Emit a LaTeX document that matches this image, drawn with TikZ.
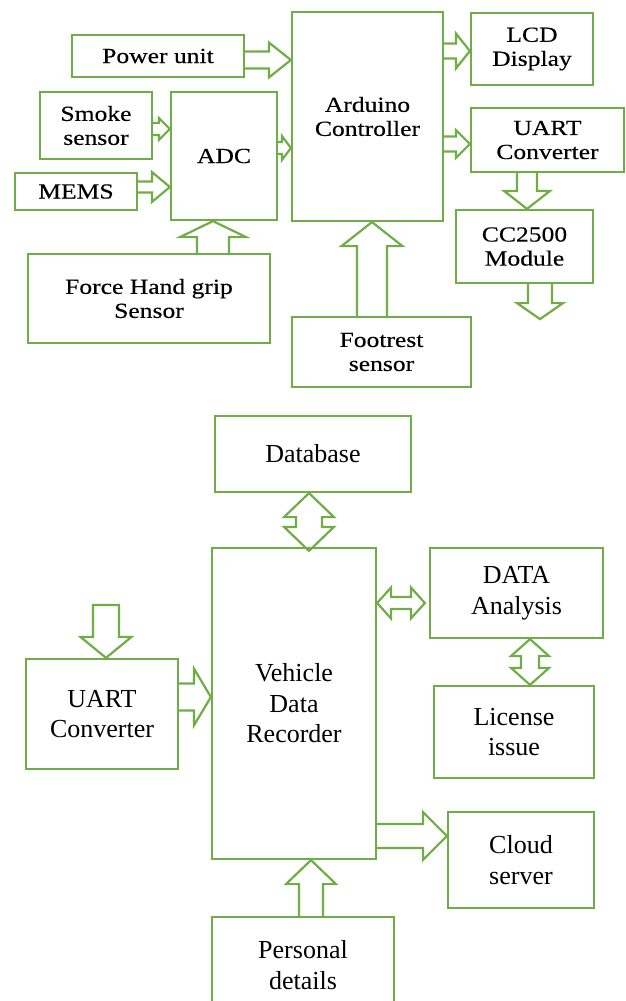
\documentclass[tikz,border=0pt]{standalone}
\usepackage{fontspec}
\usepackage{xcolor}
\usetikzlibrary{calc}
\setmainfont{Liberation Serif}
\newfontfamily\topfont[FakeStretch=1.19, FakeBold=0.3]{Liberation Serif}
\definecolor{boxgreen}{HTML}{70AD47}

\begin{document}
\begin{tikzpicture}[
    x=1pt, y=-1pt,
    every node/.style={draw=boxgreen, line width=2.2pt, align=center, inner sep=0pt},
    upper/.style={font=\fontsize{21.5}{24}\topfont\selectfont},
    lower/.style={font=\fontsize{26}{30.5}\selectfont},
    blk/.style={draw=boxgreen, line width=2.2pt, line join=miter},
    % block arrow: shaft half width, head half width, head length
    fat arrow/.style n args={3}{to path={
        ($(\tikztostart)!#1!90:(\tikztotarget)$)
        -- ($(\tikztotarget)!#3!(\tikztostart)!#1!-90:(\tikztostart)$)
        -- ($(\tikztotarget)!#3!(\tikztostart)!#2!-90:(\tikztostart)$)
        -- (\tikztotarget)
        -- ($(\tikztotarget)!#3!(\tikztostart)!#2!90:(\tikztostart)$)
        -- ($(\tikztotarget)!#3!(\tikztostart)!#1!90:(\tikztostart)$)
        -- ($(\tikztostart)!#1!-90:(\tikztotarget)$)
    }},
    fat in/.style n args={3}{to path={
        ($(\tikztostart)!#1!90:(\tikztotarget)$)
        -- ($(\tikztotarget)!#3!(\tikztostart)!#1!-90:(\tikztostart)$)
        -- ($(\tikztotarget)!#3!(\tikztostart)!#2!-90:(\tikztostart)$)
        -- (\tikztotarget)
        -- ($(\tikztotarget)!#3!(\tikztostart)!#2!90:(\tikztostart)$)
        -- ($(\tikztotarget)!#3!(\tikztostart)!#1!90:(\tikztostart)$)
        -- ($(\tikztostart)!#1!-90:(\tikztotarget)$) -- cycle
    }},
    fat both/.style n args={3}{to path={
        (\tikztostart)
        -- ($(\tikztostart)!#3!(\tikztotarget)!#2!90:(\tikztotarget)$)
        -- ($(\tikztostart)!#3!(\tikztotarget)!#1!90:(\tikztotarget)$)
        -- ($(\tikztotarget)!#3!(\tikztostart)!#1!-90:(\tikztostart)$)
        -- ($(\tikztotarget)!#3!(\tikztostart)!#2!-90:(\tikztostart)$)
        -- (\tikztotarget)
        -- ($(\tikztotarget)!#3!(\tikztostart)!#2!90:(\tikztostart)$)
        -- ($(\tikztotarget)!#3!(\tikztostart)!#1!90:(\tikztostart)$)
        -- ($(\tikztostart)!#3!(\tikztotarget)!#1!-90:(\tikztotarget)$)
        -- ($(\tikztostart)!#3!(\tikztotarget)!#2!-90:(\tikztotarget)$)
        -- cycle
    }}
]
\useasboundingbox (0,0) rectangle (626,1001);

% sensor unit
\node[upper, minimum width=172, minimum height=42] (pwr) at (158,56) {Power unit};
\node[upper, minimum width=112, minimum height=67] (smk) at (96,125.5) {Smoke\\sensor};
\node[upper, minimum width=106, minimum height=128] (adc) at (224,156) {ADC};
\node[upper, minimum width=122, minimum height=37] (mems) at (76,191.5) {MEMS};
\node[upper, minimum width=151, minimum height=209] (ard) at (367.5,116.5) {Arduino\\Controller};
\node[upper, minimum width=122, minimum height=72] (lcd) at (532,49) {LCD\\Display};
\node[upper, minimum width=153, minimum height=64] (uartA) at (547.5,140) {UART\\Converter};
\node[upper, minimum width=137, minimum height=73] (cc) at (524.5,246.5) {CC2500\\Module};
\node[upper, minimum width=179, minimum height=70] (foot) at (381.5,352) {Footrest\\sensor};
\node[upper, minimum width=242, minimum height=89] (force) at (149,298.5) {Force Hand grip\\Sensor};
\coordinate (ccout) at ([xshift=15.5pt, yshift=-35pt]cc.south);

\draw[blk] ([yshift=-4pt]pwr.east) to[fat arrow={8.5pt}{17.5pt}{22pt}] ([yshift=56.5pt]ard.west);
\draw[blk] ([yshift=-3.5pt]smk.east) to[fat arrow={6pt}{11pt}{11pt}] ([yshift=27pt]adc.west);
\draw[blk] ([yshift=4.5pt]mems.east) to[fat arrow={5.5pt}{15pt}{18pt}] ([yshift=-31pt]adc.west);
\draw[blk] ([yshift=8pt]adc.east) to[fat arrow={6pt}{12pt}{9pt}] ([yshift=-31.5pt]ard.west);
\draw[blk] ([yshift=65.5pt]ard.east) to[fat arrow={7.5pt}{17.5pt}{14pt}] ([yshift=-2pt]lcd.west);
\draw[blk] ([yshift=-27.5pt]ard.east) to[fat arrow={7.5pt}{14pt}{14pt}] ([yshift=-4pt]uartA.west);
\draw[blk] ([xshift=-20.5pt]uartA.south) to[fat arrow={10pt}{23pt}{18pt}] ([xshift=2.5pt]cc.north);
\draw[blk] ([xshift=15.5pt]cc.south) to[fat arrow={12pt}{23pt}{16pt}] (ccout);
\draw[blk] ([xshift=-9.5pt]foot.north) to[fat arrow={15pt}{30.5pt}{24pt}] ([xshift=4.5pt]ard.south);
\draw[blk] ([xshift=64pt]force.north) to[fat arrow={16pt}{33pt}{16pt}] ([xshift=-11pt]adc.south);

% monitoring unit
\node[lower, minimum width=196, minimum height=76] (db) at (313,454) {Database};
\node[lower, minimum width=164, minimum height=311] (vdr) at (294,703.5) {Vehicle\\Data\\Recorder};
\node[lower, minimum width=173, minimum height=90] (dat) at (516.5,593) {DATA\\Analysis};
\node[lower, minimum width=160, minimum height=92] (lic) at (514,732) {License\\issue};
\node[lower, minimum width=152, minimum height=110] (uartB) at (102,714) {UART\\Converter};
\node[lower, minimum width=146, minimum height=96] (cld) at (521,860) {Cloud\\server};
\node[lower, minimum width=182, minimum height=96] (per) at (303,965) {Personal\\details};
\coordinate (uin) at ([xshift=4pt, yshift=53pt]uartB.north);

\draw[blk] ([xshift=-4pt]db.south) to[fat both={13pt}{25pt}{24pt}] ([xshift=15pt, yshift=-4pt]vdr.north);
\draw[blk] ([yshift=100.5pt]vdr.east) to[fat both={6pt}{15.5pt}{14pt}] ([xshift=-4pt, yshift=-10pt]dat.west);
\draw[blk] ([xshift=13.5pt]dat.south) to[fat both={9pt}{19pt}{17pt}] ([xshift=16pt]lic.north);
\draw[blk] (uin) to[fat in={13pt}{25.5pt}{21pt}] ([xshift=4pt]uartB.north);
\draw[blk] ([yshift=17pt]uartB.east) to[fat arrow={13.5pt}{28.5pt}{17pt}] ([yshift=6.5pt]vdr.west);
\draw[blk] ([yshift=-132.5pt]vdr.east) to[fat arrow={12pt}{24pt}{24pt}] ([yshift=24pt]cld.west);
\draw[blk] ([xshift=8pt]per.north) to[fat arrow={12pt}{25pt}{24pt}] ([xshift=17pt]vdr.south);
\end{tikzpicture}
\end{document}
